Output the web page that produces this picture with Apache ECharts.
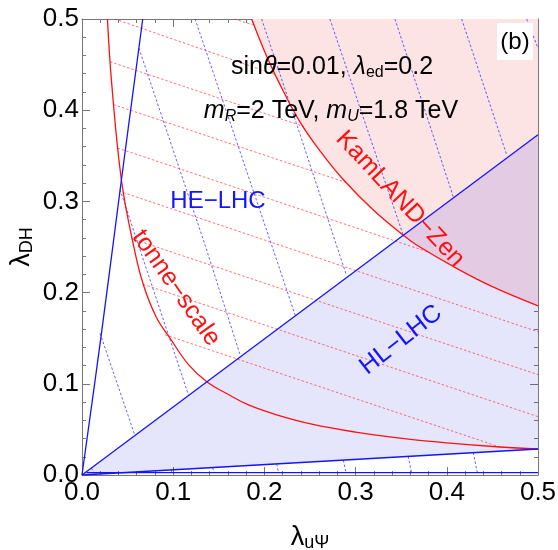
<!DOCTYPE html>
<html>
<head>
<meta charset="utf-8">
<script src="https://cdn.jsdelivr.net/npm/echarts@6/dist/echarts.min.js"></script>
<style>
html,body{margin:0;padding:0;background:#fff}
#chart{width:558px;height:550px}
</style>
</head>
<body>
<div id="chart"></div>
<script>
// curves, as [lambda_uPsi, lambda_DH]
var tonneCurve = [[0.0279,0.5],[0.0325,0.43],[0.0432,0.3235],[0.0564,0.2522],[0.0674,0.2083],[0.0815,0.173],
  [0.0966,0.1499],[0.1168,0.121],[0.1368,0.1023],[0.160,0.0885],[0.1826,0.0768],[0.2125,0.0663],
  [0.252,0.0558],[0.300,0.047],[0.3486,0.0404],[0.400,0.0352],[0.4585,0.0307],[0.5,0.0285]];
var kamlandCurve = [[0.186,0.5],[0.200,0.465],[0.2147,0.433],[0.2388,0.3874],[0.262,0.354],[0.2864,0.324],
  [0.320,0.290],[0.3522,0.263],[0.3669,0.2522],[0.4108,0.2266],[0.450,0.2065],[0.5,0.1855]];
var heSteep = [[0,0],[0.0213,0.155],[0.0432,0.3235],[0.0666,0.5]];
var hlUpper = [[0,0],[0.5,0.373]];
var hlLower = [[0,0],[0.5,0.0285]];
var heBottom = [[0.005,0.0025],[0.5,0.0025]];

// hatching segments
var redHatch = [
  [[0.167,0.5],[0.189,0.493]],
  [[0.036,0.5],[0.212,0.439]],
  [[0.0306,0.4532],[0.2434,0.382]],
  [[0.0345,0.4062],[0.2901,0.3206]],
  [[0.0391,0.3585],[0.3813,0.2439]],
  [[0.0452,0.3097],[0.5,0.157]],
  [[0.054,0.2593],[0.5,0.110]],
  [[0.0669,0.2092],[0.5,0.064]],
  [[0.091,0.1537],[0.4588,0.0305]]
];
var blueHatch = [
  [[0.0198,0.1554],[0.0578,0.0439]],
  [[0.0417,0.313],[0.0619,0.2522],[0.1169,0.0872]],
  [[0.0624,0.468],[0.135,0.252],[0.1734,0.1316]],
  [[0.124,0.5],[0.208,0.252],[0.2337,0.1754]],
  [[0.197,0.5],[0.2387,0.3746],[0.279,0.252],[0.290,0.219]],
  [[0.2718,0.5],[0.3522,0.263]],
  [[0.3431,0.5],[0.4071,0.3051]],
  [[0.4163,0.5],[0.4657,0.3509]],
  [[0.4876,0.5],[0.5,0.468]],
  [[0.0103,0.0077],[0.0135,0.0015]],
  [[0.098,0.0056],[0.0985,0.0025]],
  [[0.1432,0.0082],[0.145,0.0025]],
  [[0.2135,0.0122],[0.2155,0.0025]],
  [[0.2865,0.0163],[0.2895,0.0025]],
  [[0.3577,0.0204],[0.3613,0.0025]],
  [[0.429,0.0245],[0.4335,0.0025]]
];

var FONT = 'Liberation Sans';
var frameColor = '#777';
var blue = '#1414ff';
var red = '#ff1010';

function frameAxis(pos, showLabel){
  return {
    type:'value', position:pos, min:0, max:0.5, interval:0.1,
    axisLine:{show:true, onZero:false, lineStyle:{color:frameColor, width:1}},
    axisTick:{show:true, inside:true, length:8, lineStyle:{color:frameColor}},
    minorTick:{show:true, splitNumber:5, length:4, lineStyle:{color:frameColor}},
    splitLine:{show:false},
    axisLabel:{show:showLabel, fontFamily:FONT, fontSize:26, color:'#000',
      formatter:function(v){ return v.toFixed(1); }}
  };
}

var nameRich = {rich:{g:{fontFamily:FONT,fontSize:27,color:'#000'},
  s:{fontFamily:FONT,fontSize:18,color:'#000',padding:[10,0,0,0]}}};
var xMain = frameAxis('bottom', true);
xMain.axisLabel.margin = 5;
xMain.name = '{g|λ}{s|uΨ}';
xMain.nameLocation = 'middle';
xMain.nameGap = 49;
xMain.nameTextStyle = nameRich;
var yMain = frameAxis('left', true);
yMain.axisLabel.margin = 3;
yMain.name = '{g|λ}{s|DH}';
yMain.nameLocation = 'middle';
yMain.nameGap = 46;
yMain.nameMoveOverlap = false;
yMain.nameTextStyle = nameRich;

function solid(data, color, z){
  return {type:'line', data:data, showSymbol:false, silent:true, z:z, smooth:0.4,
    lineStyle:{color:color, width:1.3}};
}

var rich = {
  n:{fontFamily:FONT, fontSize:25, color:'#000'},
  i:{fontFamily:FONT, fontSize:25, fontStyle:'italic', color:'#000'},
  s:{fontFamily:FONT, fontSize:16, color:'#000', padding:[12,0,0,0]},
  si:{fontFamily:FONT, fontSize:16, fontStyle:'italic', color:'#000', padding:[12,0,0,0]}
};

function label(text, x, y, color, deg, size){
  return {type:'text', x:x, y:y, rotation:(deg||0)*Math.PI/180, z:50,
    style:{text:text, fill:color, font:(size||24) + 'px ' + FONT, align:'center', verticalAlign:'middle'}};
}

var chart = echarts.init(document.getElementById('chart'), null, {renderer:'canvas'});
chart.setOption({
  animation:false,
  backgroundColor:'#fff',
  grid:{left:82, right:20, top:19, bottom:75, containLabel:false, outerBoundsMode:'none'},
  xAxis:[xMain, frameAxis('top', false)],
  yAxis:[yMain, frameAxis('right', false)],
  series:[
    {type:'line', data:kamlandCurve, showSymbol:false, silent:true, z:1, smooth:0.4,
      lineStyle:{width:0}, areaStyle:{origin:'end', color:'rgb(253,228,228)', opacity:1}},
    {type:'custom', silent:true, z:2, data:[0],
      renderItem:function(params, api){
        var pts = hlUpper.concat(hlLower.slice().reverse()).map(function(p){ return api.coord(p); });
        return {type:'polygon', shape:{points:pts}, style:{fill:'rgba(0,0,230,0.1)'}};
      }},
    {type:'lines', coordinateSystem:'cartesian2d', polyline:true, silent:true, z:3,
      data:blueHatch.map(function(s){ return {coords:s}; }),
      lineStyle:{color:'rgba(30,30,255,0.7)', width:1, type:[2.5,2], opacity:1}},
    {type:'lines', coordinateSystem:'cartesian2d', polyline:true, silent:true, z:3,
      data:redHatch.map(function(s){ return {coords:s}; }),
      lineStyle:{color:'rgba(255,40,40,0.65)', width:1, type:[2.5,2], opacity:1}},
    solid(tonneCurve, red, 4),
    solid(kamlandCurve, red, 4),
    solid(heSteep, blue, 5),
    solid(hlUpper, blue, 5),
    solid(hlLower, blue, 5),
    solid(heBottom, blue, 5)
  ],
  graphic:[
    {type:'rect', shape:{x:497, y:23, width:36, height:37}, style:{fill:'#fff'}, z:40},
    {type:'text', x:515, y:42, z:50, style:{text:'(b)', font:'24px ' + FONT, fill:'#000', align:'center', verticalAlign:'middle'}},
    {type:'text', x:332, y:67, z:50, style:{text:'{n|sin}{i|θ}{n|=0.01, }{i|λ}{s|ed}{n|=0.2}', rich:rich, align:'center', verticalAlign:'middle'}},
    {type:'text', x:331, y:111, z:50, style:{text:'{i|m}{si|R}{n|=2 TeV, }{i|m}{si|U}{n|=1.8 TeV}', rich:rich, align:'center', verticalAlign:'middle'}},
    label('HE\u2212LHC', 218, 201, '#1414ff', 0, 24),
    label('tonne\u2212scale', 176, 288, '#ff1010', -55, 25),
    label('KamLAND\u2212Zen', 400, 199, '#ff1010', -47, 25),
    label('HL\u2212LHC', 401, 340, '#1414ff', 38, 25)
  ]
});
</script>
</body>
</html>
